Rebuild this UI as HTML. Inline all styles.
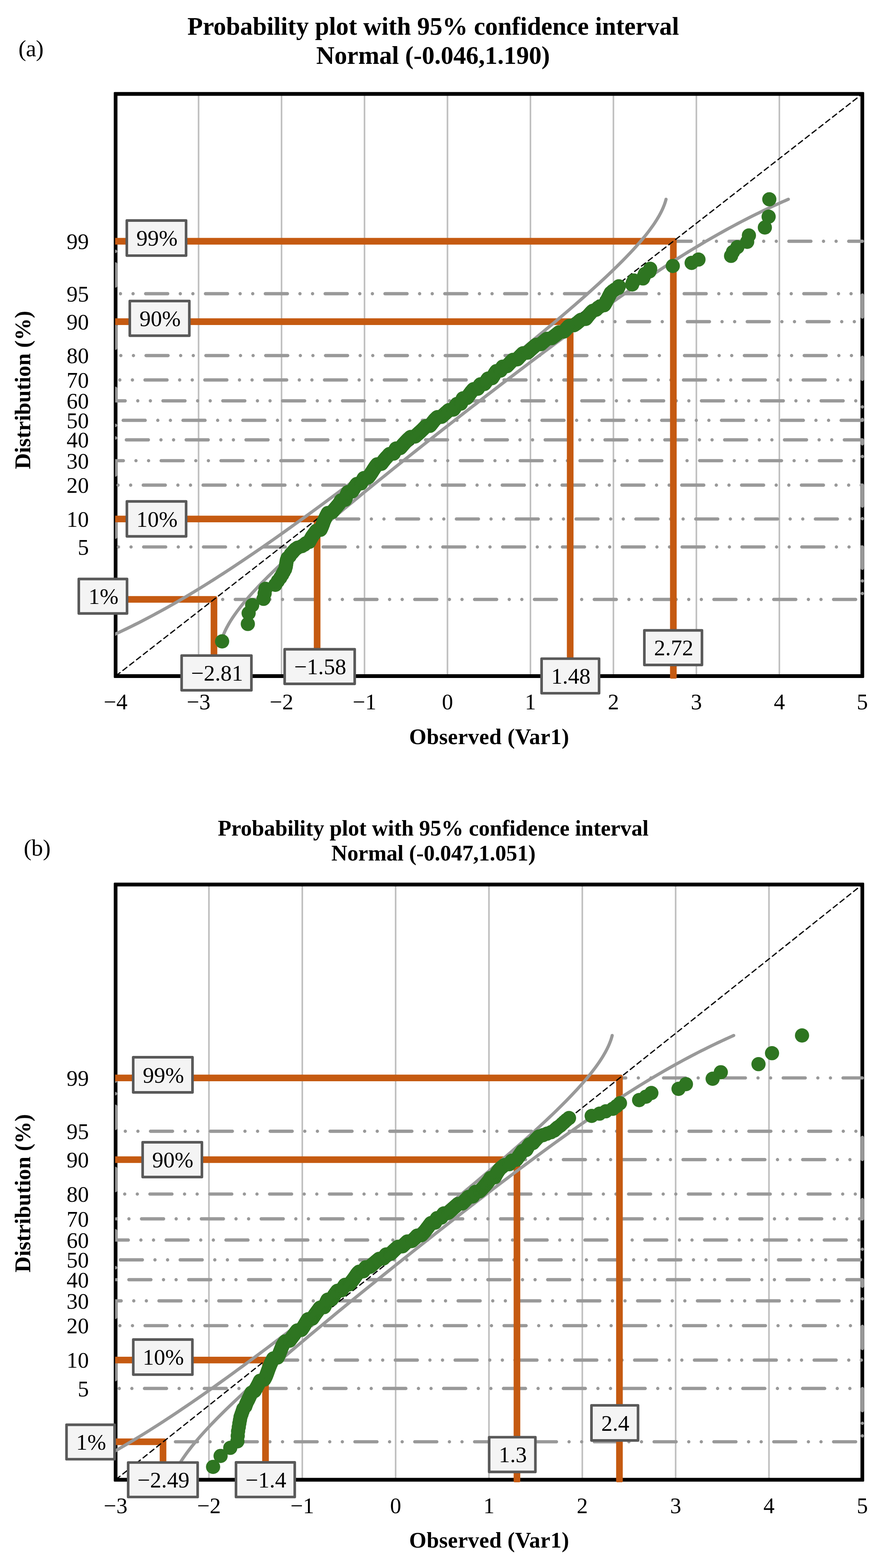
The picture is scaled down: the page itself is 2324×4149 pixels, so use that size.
<!DOCTYPE html>
<html lang="en">
<head>
<meta charset="utf-8">
<title>Probability plots with 95% confidence interval</title>
<style>
html,body{margin:0;padding:0;background:#fff;}
body{width:2324px;height:4149px;overflow:hidden;}
svg{display:block;}
text{white-space:pre;}
</style>
</head>
<body>
<svg width="2324" height="4149" viewBox="0 0 2324 4149">
<rect width="2324" height="4149" fill="#fff"/>
<path d="M525.61 248.5V1789M745.22 248.5V1789M964.83 248.5V1789M1184.44 248.5V1789M1404.06 248.5V1789M1623.67 248.5V1789M1843.28 248.5V1789M2062.89 248.5V1789" stroke="#bfbfbf" stroke-width="4.2" fill="none"/>
<path d="M303.3 243.6H2285.2Q2287.4 243.6 2287.4 245.8V1791.7Q2287.4 1793.9 2285.2 1793.9H303.3Q301.1 1793.9 301.1 1791.7V245.8Q301.1 243.6 303.3 243.6ZM310.9 253.4V1784.1H2277.6V253.4Z" fill="#000" fill-rule="evenodd"/>
<svg x="304.9" y="242" width="1983.5" height="1554" viewBox="304.9 242 1983.5 1554" overflow="hidden">
<polyline points="306,1586.06 2282.5,1586.06 2282.5,1447.24 306,1447.24 306,1373.24 2282.5,1373.24 2282.5,1283.64 306,1283.64 306,1219.02 2282.5,1219.02 2282.5,1163.81 306,1163.81 306,1112.21 2282.5,1112.21 2282.5,1060.6 306,1060.6 306,1005.39 2282.5,1005.39 2282.5,940.78 306,940.78 306,851.17 2282.5,851.17 2282.5,777.17 306,777.17 306,638.36 2282.5,638.36" fill="none" stroke="#999999" stroke-width="8.7" stroke-linecap="round" stroke-linejoin="round" stroke-dasharray="58.35 33.34 0.01 33.34 0.01 33.32" stroke-dashoffset="0"/>
<path d="M304 629.56H1785.6Q1791.1 629.56 1791.1 635.06V1792.8Q1791.1 1795.8 1788.1 1795.8H1776.5Q1773.5 1795.8 1773.5 1792.8V647.16H304Z" fill="#c55a11"/>
<path d="M304 842.37H1512.56Q1518.06 842.37 1518.06 847.87V1792.8Q1518.06 1795.8 1515.06 1795.8H1503.46Q1500.46 1795.8 1500.46 1792.8V859.97H304Z" fill="#c55a11"/>
<path d="M304 1364.44H842.73Q848.23 1364.44 848.23 1369.94V1792.8Q848.23 1795.8 845.23 1795.8H833.63Q830.63 1795.8 830.63 1792.8V1382.04H304Z" fill="#c55a11"/>
<path d="M304 1577.26H569.68Q575.18 1577.26 575.18 1582.76V1792.8Q575.18 1795.8 572.18 1795.8H560.58Q557.58 1795.8 557.58 1792.8V1594.86H304Z" fill="#c55a11"/>
<polyline points="261.96,1697.16 262.22,1697.04 263,1696.7 264.3,1696.14 266.11,1695.35 268.43,1694.34 271.26,1693.1 274.58,1691.64 278.38,1689.95 282.66,1688.05 287.4,1685.92 292.6,1683.56 298.24,1680.99 304.3,1678.2 310.77,1675.19 317.64,1671.97 324.88,1668.53 332.5,1664.87 340.47,1661 348.77,1656.92 357.4,1652.63 366.33,1648.13 375.55,1643.42 385.05,1638.51 394.81,1633.4 404.82,1628.09 415.08,1622.57 425.55,1616.86 436.25,1610.96 447.14,1604.86 458.24,1598.57 469.51,1592.1 480.96,1585.44 492.58,1578.6 504.35,1571.58 516.28,1564.38 528.36,1557.01 540.57,1549.46 552.92,1541.75 565.4,1533.87 578,1525.83 590.72,1517.63 603.56,1509.27 616.51,1500.76 629.56,1492.1 642.72,1483.29 655.99,1474.35 669.35,1465.26 682.81,1456.03 696.36,1446.67 710,1437.19 723.72,1427.58 737.54,1417.84 751.43,1407.99 765.4,1398.03 779.45,1387.95 793.58,1377.77 807.77,1367.48 822.03,1357.1 836.36,1346.62 850.74,1336.06 865.19,1325.4 879.69,1314.67 894.23,1303.85 908.83,1292.97 923.47,1282.01 938.15,1270.99 952.86,1259.9 967.61,1248.76 982.38,1237.57 997.18,1226.32 1011.99,1215.04 1026.82,1203.71 1041.65,1192.35 1056.49,1180.96 1071.33,1169.54 1086.16,1158.1 1100.98,1146.64 1115.78,1135.17 1130.56,1123.69 1145.31,1112.21 1160.03,1100.72 1174.71,1089.24 1189.34,1077.77 1203.93,1066.31 1218.45,1054.87 1232.91,1043.45 1247.31,1032.06 1261.63,1020.7 1275.86,1009.38 1290.01,998.09 1304.06,986.85 1318.01,975.65 1331.86,964.51 1345.58,953.43 1359.19,942.41 1372.67,931.45 1386.01,920.56 1399.21,909.75 1412.26,899.01 1425.15,888.36 1437.88,877.79 1450.44,867.31 1462.82,856.93 1475.02,846.65 1487.02,836.46 1498.83,826.39 1510.43,816.42 1521.81,806.57 1532.97,796.84 1543.91,787.23 1554.61,777.74 1565.08,768.38 1575.29,759.16 1585.25,750.07 1594.95,741.12 1604.39,732.31 1613.55,723.65 1622.44,715.14 1631.05,706.79 1639.37,698.59 1647.41,690.54 1655.14,682.67 1662.59,674.95 1669.73,667.41 1676.58,660.04 1683.12,652.84 1689.36,645.82 1695.3,638.97 1700.94,632.31 1706.28,625.84 1711.32,619.55 1716.07,613.46 1720.53,607.55 1724.7,601.84 1728.59,596.33 1732.22,591.01 1735.58,585.9 1738.68,580.99 1741.53,576.28 1744.15,571.78 1746.53,567.49 1748.7,563.41 1750.66,559.54 1752.43,555.89 1754.01,552.45 1755.42,549.22 1756.67,546.21 1757.77,543.42 1758.73,540.85 1759.57,538.5 1760.29,536.37 1760.91,534.46 1761.43,532.77 1761.86,531.31 1762.21,530.08 1762.49,529.06 1762.7,528.27 1762.85,527.71 1762.94,527.37 1762.97,527.26" fill="none" stroke="#999999" stroke-width="8.4" stroke-linecap="round" stroke-linejoin="round"/>
<polyline points="585.72,1697.16 585.75,1697.04 585.84,1696.7 585.98,1696.14 586.19,1695.35 586.47,1694.34 586.82,1693.1 587.26,1691.64 587.78,1689.95 588.39,1688.05 589.11,1685.92 589.95,1683.56 590.91,1680.99 592.02,1678.2 593.26,1675.19 594.67,1671.97 596.26,1668.53 598.02,1664.87 599.98,1661 602.15,1656.92 604.54,1652.63 607.15,1648.13 610.01,1643.42 613.11,1638.51 616.47,1633.4 620.09,1628.09 623.99,1622.57 628.16,1616.86 632.62,1610.96 637.37,1604.86 642.41,1598.57 647.75,1592.1 653.38,1585.44 659.32,1578.6 665.56,1571.58 672.11,1564.38 678.95,1557.01 686.1,1549.46 693.54,1541.75 701.28,1533.87 709.31,1525.83 717.63,1517.63 726.24,1509.27 735.13,1500.76 744.3,1492.1 753.73,1483.29 763.43,1474.35 773.39,1465.26 783.61,1456.03 794.07,1446.67 804.77,1437.19 815.71,1427.58 826.87,1417.84 838.26,1407.99 849.86,1398.03 861.66,1387.95 873.66,1377.77 885.86,1367.48 898.24,1357.1 910.8,1346.62 923.53,1336.06 936.42,1325.4 949.47,1314.67 962.67,1303.85 976.02,1292.97 989.49,1282.01 1003.1,1270.99 1016.83,1259.9 1030.67,1248.76 1044.62,1237.57 1058.68,1226.32 1072.82,1215.04 1087.06,1203.71 1101.38,1192.35 1115.77,1180.96 1130.23,1169.54 1144.76,1158.1 1159.34,1146.64 1173.98,1135.17 1188.66,1123.69 1203.37,1112.21 1218.13,1100.72 1232.91,1089.24 1247.71,1077.77 1262.53,1066.31 1277.36,1054.87 1292.19,1043.45 1307.03,1032.06 1321.87,1020.7 1336.69,1009.38 1351.51,998.09 1366.3,986.85 1381.07,975.65 1395.82,964.51 1410.53,953.43 1425.21,942.41 1439.85,931.45 1454.45,920.56 1469,909.75 1483.5,899.01 1497.94,888.36 1512.33,877.79 1526.65,867.31 1540.91,856.93 1555.11,846.65 1569.23,836.46 1583.28,826.39 1597.25,816.42 1611.15,806.57 1624.96,796.84 1638.69,787.23 1652.33,777.74 1665.88,768.38 1679.34,759.16 1692.7,750.07 1705.96,741.12 1719.12,732.31 1732.18,723.65 1745.13,715.14 1757.96,706.79 1770.68,698.59 1783.29,690.54 1795.76,682.67 1808.11,674.95 1820.33,667.41 1832.4,660.04 1844.33,652.84 1856.11,645.82 1867.72,638.97 1879.17,632.31 1890.45,625.84 1901.54,619.55 1912.44,613.46 1923.13,607.55 1933.61,601.84 1943.86,596.33 1953.87,591.01 1963.64,585.9 1973.14,580.99 1982.36,576.28 1991.29,571.78 1999.91,567.49 2008.22,563.41 2016.18,559.54 2023.8,555.89 2031.05,552.45 2037.92,549.22 2044.39,546.21 2050.45,543.42 2056.08,540.85 2061.28,538.5 2066.02,536.37 2070.3,534.46 2074.11,532.77 2077.43,531.31 2080.25,530.08 2082.57,529.06 2084.39,528.27 2085.69,527.71 2086.47,527.37 2086.73,527.26" fill="none" stroke="#999999" stroke-width="8.4" stroke-linecap="round" stroke-linejoin="round"/>
<line x1="306" y1="1789" x2="2282.5" y2="248.5" stroke="#000" stroke-width="3.3" stroke-linecap="round" stroke-dasharray="13.3 9.6" stroke-dashoffset="-1.6"/>
<g fill="#2e7521"><circle cx="587.9" cy="1697.16" r="18.8"/><circle cx="656" cy="1651.01" r="18.8"/><circle cx="658.1" cy="1622.45" r="18.8"/><circle cx="667.5" cy="1601.37" r="18.8"/><circle cx="697.6" cy="1584.51" r="18.8"/><circle cx="700.5" cy="1570.37" r="18.8"/><circle cx="702.8" cy="1558.15" r="18.8"/><circle cx="728.8" cy="1547.35" r="18.8"/><circle cx="735.35" cy="1537.65" r="18.8"/><circle cx="741.81" cy="1528.83" r="18.8"/><circle cx="746.75" cy="1520.73" r="18.8"/><circle cx="750.89" cy="1513.22" r="18.8"/><circle cx="754.59" cy="1506.23" r="18.8"/><circle cx="756.45" cy="1499.67" r="18.8"/><circle cx="757.4" cy="1493.49" r="18.8"/><circle cx="758.26" cy="1487.64" r="18.8"/><circle cx="759.31" cy="1482.08" r="18.8"/><circle cx="761.17" cy="1476.79" r="18.8"/><circle cx="766.56" cy="1471.73" r="18.8"/><circle cx="769.51" cy="1466.89" r="18.8"/><circle cx="773.74" cy="1462.24" r="18.8"/><circle cx="777.64" cy="1457.76" r="18.8"/><circle cx="781.56" cy="1453.44" r="18.8"/><circle cx="787.53" cy="1449.28" r="18.8"/><circle cx="798.73" cy="1445.25" r="18.8"/><circle cx="805.34" cy="1441.34" r="18.8"/><circle cx="809.65" cy="1437.55" r="18.8"/><circle cx="818.31" cy="1433.88" r="18.8"/><circle cx="820.22" cy="1430.3" r="18.8"/><circle cx="822.08" cy="1426.82" r="18.8"/><circle cx="823.92" cy="1423.43" r="18.8"/><circle cx="825.86" cy="1420.12" r="18.8"/><circle cx="828.19" cy="1416.89" r="18.8"/><circle cx="830.48" cy="1413.74" r="18.8"/><circle cx="832.73" cy="1410.66" r="18.8"/><circle cx="835.07" cy="1407.64" r="18.8"/><circle cx="836.9" cy="1404.69" r="18.8"/><circle cx="848.27" cy="1401.8" r="18.8"/><circle cx="849.61" cy="1398.96" r="18.8"/><circle cx="850.88" cy="1396.18" r="18.8"/><circle cx="852.07" cy="1393.46" r="18.8"/><circle cx="853.16" cy="1390.78" r="18.8"/><circle cx="854.16" cy="1388.15" r="18.8"/><circle cx="855.06" cy="1385.56" r="18.8"/><circle cx="855.88" cy="1383.02" r="18.8"/><circle cx="856.62" cy="1380.52" r="18.8"/><circle cx="857.74" cy="1378.05" r="18.8"/><circle cx="858.92" cy="1375.63" r="18.8"/><circle cx="860.06" cy="1373.24" r="18.8"/><circle cx="861.16" cy="1370.89" r="18.8"/><circle cx="862.25" cy="1368.58" r="18.8"/><circle cx="863.33" cy="1366.29" r="18.8"/><circle cx="864.41" cy="1364.04" r="18.8"/><circle cx="865.51" cy="1361.82" r="18.8"/><circle cx="866.62" cy="1359.62" r="18.8"/><circle cx="867.76" cy="1357.46" r="18.8"/><circle cx="878.93" cy="1355.32" r="18.8"/><circle cx="880.55" cy="1353.21" r="18.8"/><circle cx="882.24" cy="1351.12" r="18.8"/><circle cx="883.95" cy="1349.06" r="18.8"/><circle cx="885.66" cy="1347.03" r="18.8"/><circle cx="887.37" cy="1345.01" r="18.8"/><circle cx="889.07" cy="1343.02" r="18.8"/><circle cx="890.76" cy="1341.05" r="18.8"/><circle cx="892.42" cy="1339.1" r="18.8"/><circle cx="894.06" cy="1337.18" r="18.8"/><circle cx="895.67" cy="1335.27" r="18.8"/><circle cx="897.24" cy="1333.38" r="18.8"/><circle cx="898.55" cy="1331.51" r="18.8"/><circle cx="899.63" cy="1329.66" r="18.8"/><circle cx="900.66" cy="1327.83" r="18.8"/><circle cx="901.66" cy="1326.01" r="18.8"/><circle cx="902.62" cy="1324.21" r="18.8"/><circle cx="913.53" cy="1322.43" r="18.8"/><circle cx="914.09" cy="1320.66" r="18.8"/><circle cx="914.63" cy="1318.91" r="18.8"/><circle cx="915.16" cy="1317.17" r="18.8"/><circle cx="915.67" cy="1315.45" r="18.8"/><circle cx="916.17" cy="1313.74" r="18.8"/><circle cx="916.7" cy="1312.05" r="18.8"/><circle cx="917.42" cy="1310.37" r="18.8"/><circle cx="918.14" cy="1308.71" r="18.8"/><circle cx="918.85" cy="1307.05" r="18.8"/><circle cx="919.57" cy="1305.41" r="18.8"/><circle cx="920.3" cy="1303.78" r="18.8"/><circle cx="921.03" cy="1302.17" r="18.8"/><circle cx="931.77" cy="1300.57" r="18.8"/><circle cx="932.72" cy="1298.97" r="18.8"/><circle cx="933.69" cy="1297.39" r="18.8"/><circle cx="934.67" cy="1295.82" r="18.8"/><circle cx="935.67" cy="1294.26" r="18.8"/><circle cx="936.63" cy="1292.72" r="18.8"/><circle cx="937.58" cy="1291.18" r="18.8"/><circle cx="938.53" cy="1289.65" r="18.8"/><circle cx="939.51" cy="1288.13" r="18.8"/><circle cx="940.49" cy="1286.62" r="18.8"/><circle cx="941.49" cy="1285.12" r="18.8"/><circle cx="942.5" cy="1283.64" r="18.8"/><circle cx="943.52" cy="1282.16" r="18.8"/><circle cx="944.53" cy="1280.68" r="18.8"/><circle cx="955.45" cy="1279.22" r="18.8"/><circle cx="956.25" cy="1277.77" r="18.8"/><circle cx="957.05" cy="1276.32" r="18.8"/><circle cx="957.84" cy="1274.88" r="18.8"/><circle cx="958.63" cy="1273.45" r="18.8"/><circle cx="959.41" cy="1272.03" r="18.8"/><circle cx="960.17" cy="1270.62" r="18.8"/><circle cx="960.92" cy="1269.21" r="18.8"/><circle cx="961.66" cy="1267.81" r="18.8"/><circle cx="962.38" cy="1266.42" r="18.8"/><circle cx="963.09" cy="1265.04" r="18.8"/><circle cx="974.11" cy="1263.66" r="18.8"/><circle cx="975.19" cy="1262.29" r="18.8"/><circle cx="976.23" cy="1260.93" r="18.8"/><circle cx="977.25" cy="1259.57" r="18.8"/><circle cx="978.25" cy="1258.22" r="18.8"/><circle cx="979.22" cy="1256.88" r="18.8"/><circle cx="980.16" cy="1255.54" r="18.8"/><circle cx="981.08" cy="1254.21" r="18.8"/><circle cx="981.98" cy="1252.88" r="18.8"/><circle cx="982.85" cy="1251.56" r="18.8"/><circle cx="983.71" cy="1250.25" r="18.8"/><circle cx="984.55" cy="1248.94" r="18.8"/><circle cx="985.38" cy="1247.64" r="18.8"/><circle cx="986.19" cy="1246.34" r="18.8"/><circle cx="987" cy="1245.05" r="18.8"/><circle cx="987.8" cy="1243.76" r="18.8"/><circle cx="988.59" cy="1242.48" r="18.8"/><circle cx="989.38" cy="1241.21" r="18.8"/><circle cx="990.23" cy="1239.93" r="18.8"/><circle cx="991.1" cy="1238.67" r="18.8"/><circle cx="991.97" cy="1237.41" r="18.8"/><circle cx="992.85" cy="1236.15" r="18.8"/><circle cx="993.73" cy="1234.9" r="18.8"/><circle cx="994.61" cy="1233.65" r="18.8"/><circle cx="995.51" cy="1232.41" r="18.8"/><circle cx="996.41" cy="1231.17" r="18.8"/><circle cx="997.32" cy="1229.94" r="18.8"/><circle cx="998.24" cy="1228.71" r="18.8"/><circle cx="1009.15" cy="1227.48" r="18.8"/><circle cx="1010.06" cy="1226.26" r="18.8"/><circle cx="1010.98" cy="1225.05" r="18.8"/><circle cx="1011.9" cy="1223.83" r="18.8"/><circle cx="1012.83" cy="1222.62" r="18.8"/><circle cx="1013.77" cy="1221.42" r="18.8"/><circle cx="1014.72" cy="1220.22" r="18.8"/><circle cx="1015.66" cy="1219.02" r="18.8"/><circle cx="1016.62" cy="1217.83" r="18.8"/><circle cx="1017.57" cy="1216.64" r="18.8"/><circle cx="1018.53" cy="1215.45" r="18.8"/><circle cx="1019.48" cy="1214.27" r="18.8"/><circle cx="1020.48" cy="1213.09" r="18.8"/><circle cx="1021.57" cy="1211.91" r="18.8"/><circle cx="1022.65" cy="1210.74" r="18.8"/><circle cx="1023.73" cy="1209.57" r="18.8"/><circle cx="1024.8" cy="1208.4" r="18.8"/><circle cx="1025.86" cy="1207.24" r="18.8"/><circle cx="1026.91" cy="1206.08" r="18.8"/><circle cx="1027.95" cy="1204.92" r="18.8"/><circle cx="1028.98" cy="1203.77" r="18.8"/><circle cx="1030" cy="1202.62" r="18.8"/><circle cx="1031" cy="1201.47" r="18.8"/><circle cx="1041.71" cy="1200.32" r="18.8"/><circle cx="1042.29" cy="1199.18" r="18.8"/><circle cx="1042.87" cy="1198.04" r="18.8"/><circle cx="1043.43" cy="1196.9" r="18.8"/><circle cx="1043.99" cy="1195.77" r="18.8"/><circle cx="1044.54" cy="1194.64" r="18.8"/><circle cx="1045.08" cy="1193.51" r="18.8"/><circle cx="1045.62" cy="1192.38" r="18.8"/><circle cx="1046.15" cy="1191.25" r="18.8"/><circle cx="1046.67" cy="1190.13" r="18.8"/><circle cx="1047.2" cy="1189.01" r="18.8"/><circle cx="1047.73" cy="1187.89" r="18.8"/><circle cx="1048.26" cy="1186.78" r="18.8"/><circle cx="1059.18" cy="1185.67" r="18.8"/><circle cx="1060.13" cy="1184.55" r="18.8"/><circle cx="1061.07" cy="1183.45" r="18.8"/><circle cx="1062.01" cy="1182.34" r="18.8"/><circle cx="1062.96" cy="1181.23" r="18.8"/><circle cx="1063.9" cy="1180.13" r="18.8"/><circle cx="1064.84" cy="1179.03" r="18.8"/><circle cx="1065.8" cy="1177.93" r="18.8"/><circle cx="1066.75" cy="1176.84" r="18.8"/><circle cx="1067.71" cy="1175.74" r="18.8"/><circle cx="1068.69" cy="1174.65" r="18.8"/><circle cx="1069.67" cy="1173.56" r="18.8"/><circle cx="1070.66" cy="1172.47" r="18.8"/><circle cx="1071.66" cy="1171.38" r="18.8"/><circle cx="1072.67" cy="1170.29" r="18.8"/><circle cx="1073.7" cy="1169.21" r="18.8"/><circle cx="1074.73" cy="1168.13" r="18.8"/><circle cx="1075.79" cy="1167.05" r="18.8"/><circle cx="1076.85" cy="1165.97" r="18.8"/><circle cx="1077.93" cy="1164.89" r="18.8"/><circle cx="1079.02" cy="1163.81" r="18.8"/><circle cx="1080.13" cy="1162.74" r="18.8"/><circle cx="1081.25" cy="1161.66" r="18.8"/><circle cx="1082.38" cy="1160.59" r="18.8"/><circle cx="1083.52" cy="1159.52" r="18.8"/><circle cx="1084.67" cy="1158.45" r="18.8"/><circle cx="1085.84" cy="1157.38" r="18.8"/><circle cx="1087.01" cy="1156.31" r="18.8"/><circle cx="1098.19" cy="1155.25" r="18.8"/><circle cx="1099.37" cy="1154.18" r="18.8"/><circle cx="1100.56" cy="1153.12" r="18.8"/><circle cx="1101.76" cy="1152.06" r="18.8"/><circle cx="1102.95" cy="1150.99" r="18.8"/><circle cx="1104.12" cy="1149.93" r="18.8"/><circle cx="1105.29" cy="1148.87" r="18.8"/><circle cx="1106.46" cy="1147.81" r="18.8"/><circle cx="1107.62" cy="1146.76" r="18.8"/><circle cx="1108.79" cy="1145.7" r="18.8"/><circle cx="1109.95" cy="1144.65" r="18.8"/><circle cx="1111.1" cy="1143.59" r="18.8"/><circle cx="1112.24" cy="1142.54" r="18.8"/><circle cx="1113.38" cy="1141.48" r="18.8"/><circle cx="1114.5" cy="1140.43" r="18.8"/><circle cx="1115.62" cy="1139.38" r="18.8"/><circle cx="1116.72" cy="1138.33" r="18.8"/><circle cx="1117.81" cy="1137.28" r="18.8"/><circle cx="1118.89" cy="1136.23" r="18.8"/><circle cx="1119.96" cy="1135.18" r="18.8"/><circle cx="1121.01" cy="1134.13" r="18.8"/><circle cx="1122.04" cy="1133.08" r="18.8"/><circle cx="1123.07" cy="1132.04" r="18.8"/><circle cx="1124.07" cy="1130.99" r="18.8"/><circle cx="1125.07" cy="1129.94" r="18.8"/><circle cx="1126.05" cy="1128.9" r="18.8"/><circle cx="1127.02" cy="1127.85" r="18.8"/><circle cx="1137.89" cy="1126.81" r="18.8"/><circle cx="1138.76" cy="1125.76" r="18.8"/><circle cx="1139.61" cy="1124.72" r="18.8"/><circle cx="1140.46" cy="1123.67" r="18.8"/><circle cx="1141.29" cy="1122.63" r="18.8"/><circle cx="1142.12" cy="1121.59" r="18.8"/><circle cx="1142.94" cy="1120.55" r="18.8"/><circle cx="1143.75" cy="1119.5" r="18.8"/><circle cx="1144.56" cy="1118.46" r="18.8"/><circle cx="1145.36" cy="1117.42" r="18.8"/><circle cx="1146.16" cy="1116.38" r="18.8"/><circle cx="1146.96" cy="1115.33" r="18.8"/><circle cx="1147.76" cy="1114.29" r="18.8"/><circle cx="1148.55" cy="1113.25" r="18.8"/><circle cx="1149.35" cy="1112.21" r="18.8"/><circle cx="1150.26" cy="1111.17" r="18.8"/><circle cx="1151.31" cy="1110.12" r="18.8"/><circle cx="1152.38" cy="1109.08" r="18.8"/><circle cx="1153.44" cy="1108.04" r="18.8"/><circle cx="1154.51" cy="1107" r="18.8"/><circle cx="1155.59" cy="1105.95" r="18.8"/><circle cx="1156.68" cy="1104.91" r="18.8"/><circle cx="1157.77" cy="1103.87" r="18.8"/><circle cx="1168.87" cy="1102.83" r="18.8"/><circle cx="1169.97" cy="1101.78" r="18.8"/><circle cx="1171.07" cy="1100.74" r="18.8"/><circle cx="1172.18" cy="1099.7" r="18.8"/><circle cx="1173.3" cy="1098.65" r="18.8"/><circle cx="1174.43" cy="1097.61" r="18.8"/><circle cx="1175.57" cy="1096.56" r="18.8"/><circle cx="1176.72" cy="1095.52" r="18.8"/><circle cx="1177.88" cy="1094.47" r="18.8"/><circle cx="1179.04" cy="1093.42" r="18.8"/><circle cx="1180.21" cy="1092.38" r="18.8"/><circle cx="1181.39" cy="1091.33" r="18.8"/><circle cx="1182.57" cy="1090.28" r="18.8"/><circle cx="1183.76" cy="1089.23" r="18.8"/><circle cx="1184.95" cy="1088.19" r="18.8"/><circle cx="1186.15" cy="1087.14" r="18.8"/><circle cx="1187.34" cy="1086.09" r="18.8"/><circle cx="1188.54" cy="1085.04" r="18.8"/><circle cx="1199.68" cy="1083.98" r="18.8"/><circle cx="1200.56" cy="1082.93" r="18.8"/><circle cx="1201.43" cy="1081.88" r="18.8"/><circle cx="1202.31" cy="1080.82" r="18.8"/><circle cx="1202.98" cy="1079.77" r="18.8"/><circle cx="1203.62" cy="1078.71" r="18.8"/><circle cx="1204.25" cy="1077.66" r="18.8"/><circle cx="1204.88" cy="1076.6" r="18.8"/><circle cx="1205.51" cy="1075.54" r="18.8"/><circle cx="1206.13" cy="1074.48" r="18.8"/><circle cx="1206.75" cy="1073.42" r="18.8"/><circle cx="1207.36" cy="1072.36" r="18.8"/><circle cx="1207.96" cy="1071.3" r="18.8"/><circle cx="1208.56" cy="1070.23" r="18.8"/><circle cx="1209.15" cy="1069.17" r="18.8"/><circle cx="1219.64" cy="1068.1" r="18.8"/><circle cx="1220.09" cy="1067.03" r="18.8"/><circle cx="1220.54" cy="1065.97" r="18.8"/><circle cx="1220.99" cy="1064.9" r="18.8"/><circle cx="1221.43" cy="1063.82" r="18.8"/><circle cx="1221.87" cy="1062.75" r="18.8"/><circle cx="1222.31" cy="1061.68" r="18.8"/><circle cx="1222.74" cy="1060.6" r="18.8"/><circle cx="1223.17" cy="1059.53" r="18.8"/><circle cx="1223.6" cy="1058.45" r="18.8"/><circle cx="1224.03" cy="1057.37" r="18.8"/><circle cx="1224.46" cy="1056.29" r="18.8"/><circle cx="1224.88" cy="1055.2" r="18.8"/><circle cx="1225.31" cy="1054.12" r="18.8"/><circle cx="1235.81" cy="1053.03" r="18.8"/><circle cx="1236.54" cy="1051.95" r="18.8"/><circle cx="1237.27" cy="1050.86" r="18.8"/><circle cx="1238" cy="1049.77" r="18.8"/><circle cx="1238.74" cy="1048.67" r="18.8"/><circle cx="1239.5" cy="1047.58" r="18.8"/><circle cx="1240.26" cy="1046.48" r="18.8"/><circle cx="1241.03" cy="1045.38" r="18.8"/><circle cx="1241.81" cy="1044.28" r="18.8"/><circle cx="1242.61" cy="1043.18" r="18.8"/><circle cx="1243.42" cy="1042.07" r="18.8"/><circle cx="1244.24" cy="1040.97" r="18.8"/><circle cx="1245.08" cy="1039.86" r="18.8"/><circle cx="1245.94" cy="1038.75" r="18.8"/><circle cx="1246.81" cy="1037.64" r="18.8"/><circle cx="1247.72" cy="1036.52" r="18.8"/><circle cx="1248.65" cy="1035.4" r="18.8"/><circle cx="1249.59" cy="1034.28" r="18.8"/><circle cx="1250.54" cy="1033.16" r="18.8"/><circle cx="1251.51" cy="1032.04" r="18.8"/><circle cx="1252.5" cy="1030.91" r="18.8"/><circle cx="1253.49" cy="1029.78" r="18.8"/><circle cx="1264.44" cy="1028.65" r="18.8"/><circle cx="1265.11" cy="1027.51" r="18.8"/><circle cx="1265.78" cy="1026.37" r="18.8"/><circle cx="1266.47" cy="1025.23" r="18.8"/><circle cx="1267.15" cy="1024.09" r="18.8"/><circle cx="1267.85" cy="1022.95" r="18.8"/><circle cx="1268.54" cy="1021.8" r="18.8"/><circle cx="1269.24" cy="1020.65" r="18.8"/><circle cx="1269.94" cy="1019.49" r="18.8"/><circle cx="1270.64" cy="1018.33" r="18.8"/><circle cx="1271.34" cy="1017.17" r="18.8"/><circle cx="1282.1" cy="1016.01" r="18.8"/><circle cx="1282.94" cy="1014.84" r="18.8"/><circle cx="1283.78" cy="1013.68" r="18.8"/><circle cx="1284.61" cy="1012.5" r="18.8"/><circle cx="1285.43" cy="1011.33" r="18.8"/><circle cx="1286.25" cy="1010.15" r="18.8"/><circle cx="1287.06" cy="1008.96" r="18.8"/><circle cx="1287.86" cy="1007.78" r="18.8"/><circle cx="1288.65" cy="1006.59" r="18.8"/><circle cx="1289.43" cy="1005.39" r="18.8"/><circle cx="1290.2" cy="1004.2" r="18.8"/><circle cx="1290.96" cy="1002.99" r="18.8"/><circle cx="1291.71" cy="1001.79" r="18.8"/><circle cx="1302.46" cy="1000.58" r="18.8"/><circle cx="1303.23" cy="999.37" r="18.8"/><circle cx="1303.99" cy="998.15" r="18.8"/><circle cx="1304.75" cy="996.93" r="18.8"/><circle cx="1305.49" cy="995.7" r="18.8"/><circle cx="1306.22" cy="994.48" r="18.8"/><circle cx="1306.95" cy="993.24" r="18.8"/><circle cx="1307.68" cy="992" r="18.8"/><circle cx="1308.4" cy="990.76" r="18.8"/><circle cx="1309.12" cy="989.51" r="18.8"/><circle cx="1309.83" cy="988.26" r="18.8"/><circle cx="1310.55" cy="987.01" r="18.8"/><circle cx="1311.32" cy="985.75" r="18.8"/><circle cx="1312.22" cy="984.48" r="18.8"/><circle cx="1313.12" cy="983.21" r="18.8"/><circle cx="1314.04" cy="981.93" r="18.8"/><circle cx="1324.74" cy="980.65" r="18.8"/><circle cx="1325.43" cy="979.37" r="18.8"/><circle cx="1326.13" cy="978.07" r="18.8"/><circle cx="1326.84" cy="976.78" r="18.8"/><circle cx="1327.56" cy="975.47" r="18.8"/><circle cx="1328.29" cy="974.17" r="18.8"/><circle cx="1329.04" cy="972.85" r="18.8"/><circle cx="1329.79" cy="971.53" r="18.8"/><circle cx="1330.55" cy="970.21" r="18.8"/><circle cx="1341.61" cy="968.88" r="18.8"/><circle cx="1342.85" cy="967.54" r="18.8"/><circle cx="1344.1" cy="966.19" r="18.8"/><circle cx="1345.38" cy="964.84" r="18.8"/><circle cx="1346.67" cy="963.49" r="18.8"/><circle cx="1347.97" cy="962.12" r="18.8"/><circle cx="1349.29" cy="960.75" r="18.8"/><circle cx="1350.62" cy="959.38" r="18.8"/><circle cx="1351.96" cy="957.99" r="18.8"/><circle cx="1353.31" cy="956.6" r="18.8"/><circle cx="1354.66" cy="955.2" r="18.8"/><circle cx="1356.02" cy="953.79" r="18.8"/><circle cx="1357.38" cy="952.38" r="18.8"/><circle cx="1368.74" cy="950.96" r="18.8"/><circle cx="1370.08" cy="949.53" r="18.8"/><circle cx="1371.43" cy="948.09" r="18.8"/><circle cx="1372.76" cy="946.65" r="18.8"/><circle cx="1374.09" cy="945.19" r="18.8"/><circle cx="1375.42" cy="943.73" r="18.8"/><circle cx="1376.89" cy="942.26" r="18.8"/><circle cx="1378.39" cy="940.78" r="18.8"/><circle cx="1379.87" cy="939.29" r="18.8"/><circle cx="1381.35" cy="937.79" r="18.8"/><circle cx="1382.83" cy="936.28" r="18.8"/><circle cx="1384.3" cy="934.76" r="18.8"/><circle cx="1395.96" cy="933.24" r="18.8"/><circle cx="1397.66" cy="931.7" r="18.8"/><circle cx="1399.37" cy="930.15" r="18.8"/><circle cx="1401.08" cy="928.59" r="18.8"/><circle cx="1402.8" cy="927.02" r="18.8"/><circle cx="1404.53" cy="925.44" r="18.8"/><circle cx="1406.28" cy="923.85" r="18.8"/><circle cx="1408.05" cy="922.24" r="18.8"/><circle cx="1409.85" cy="920.63" r="18.8"/><circle cx="1411.68" cy="919" r="18.8"/><circle cx="1413.54" cy="917.36" r="18.8"/><circle cx="1415.45" cy="915.71" r="18.8"/><circle cx="1417.4" cy="914.04" r="18.8"/><circle cx="1419.4" cy="912.36" r="18.8"/><circle cx="1431.38" cy="910.67" r="18.8"/><circle cx="1433.26" cy="908.96" r="18.8"/><circle cx="1435.19" cy="907.24" r="18.8"/><circle cx="1437.18" cy="905.51" r="18.8"/><circle cx="1439.24" cy="903.75" r="18.8"/><circle cx="1441.34" cy="901.99" r="18.8"/><circle cx="1443.5" cy="900.2" r="18.8"/><circle cx="1445.69" cy="898.4" r="18.8"/><circle cx="1447.92" cy="896.59" r="18.8"/><circle cx="1460.23" cy="894.76" r="18.8"/><circle cx="1462.64" cy="892.9" r="18.8"/><circle cx="1465.07" cy="891.03" r="18.8"/><circle cx="1467.52" cy="889.15" r="18.8"/><circle cx="1469.99" cy="887.24" r="18.8"/><circle cx="1472.45" cy="885.31" r="18.8"/><circle cx="1474.91" cy="883.36" r="18.8"/><circle cx="1477.37" cy="881.39" r="18.8"/><circle cx="1479.81" cy="879.4" r="18.8"/><circle cx="1492.14" cy="877.39" r="18.8"/><circle cx="1494.37" cy="875.35" r="18.8"/><circle cx="1496.36" cy="873.29" r="18.8"/><circle cx="1498.33" cy="871.21" r="18.8"/><circle cx="1500.28" cy="869.09" r="18.8"/><circle cx="1502.21" cy="866.96" r="18.8"/><circle cx="1504.14" cy="864.79" r="18.8"/><circle cx="1506.35" cy="862.6" r="18.8"/><circle cx="1519.42" cy="860.38" r="18.8"/><circle cx="1522.66" cy="858.12" r="18.8"/><circle cx="1525.96" cy="855.84" r="18.8"/><circle cx="1528.93" cy="853.52" r="18.8"/><circle cx="1531.7" cy="851.17" r="18.8"/><circle cx="1534.54" cy="848.78" r="18.8"/><circle cx="1537.62" cy="846.36" r="18.8"/><circle cx="1550.12" cy="843.9" r="18.8"/><circle cx="1552.46" cy="841.4" r="18.8"/><circle cx="1554.3" cy="838.85" r="18.8"/><circle cx="1556.29" cy="836.27" r="18.8"/><circle cx="1558.44" cy="833.64" r="18.8"/><circle cx="1560.73" cy="830.96" r="18.8"/><circle cx="1563.15" cy="828.23" r="18.8"/><circle cx="1565.77" cy="825.45" r="18.8"/><circle cx="1568.92" cy="822.62" r="18.8"/><circle cx="1577.68" cy="819.72" r="18.8"/><circle cx="1580.58" cy="816.77" r="18.8"/><circle cx="1583.64" cy="813.76" r="18.8"/><circle cx="1589" cy="810.67" r="18.8"/><circle cx="1599.27" cy="807.52" r="18.8"/><circle cx="1601.46" cy="804.29" r="18.8"/><circle cx="1603.09" cy="800.99" r="18.8"/><circle cx="1604.84" cy="797.59" r="18.8"/><circle cx="1606.72" cy="794.11" r="18.8"/><circle cx="1608.76" cy="790.54" r="18.8"/><circle cx="1610.5" cy="786.86" r="18.8"/><circle cx="1612.37" cy="783.07" r="18.8"/><circle cx="1614.36" cy="779.17" r="18.8"/><circle cx="1616.44" cy="775.14" r="18.8"/><circle cx="1621.09" cy="770.97" r="18.8"/><circle cx="1627.03" cy="766.65" r="18.8"/><circle cx="1635.9" cy="762.18" r="18.8"/><circle cx="1638" cy="757.53" r="18.8"/><circle cx="1673.3" cy="752.68" r="18.8"/><circle cx="1675" cy="747.62" r="18.8"/><circle cx="1678" cy="742.33" r="18.8"/><circle cx="1702" cy="736.78" r="18.8"/><circle cx="1704.5" cy="730.93" r="18.8"/><circle cx="1707" cy="724.75" r="18.8"/><circle cx="1719" cy="718.19" r="18.8"/><circle cx="1721" cy="711.19" r="18.8"/><circle cx="1780.8" cy="703.69" r="18.8"/><circle cx="1830.7" cy="695.58" r="18.8"/><circle cx="1848.8" cy="686.76" r="18.8"/><circle cx="1935.1" cy="677.06" r="18.8"/><circle cx="1940.3" cy="666.26" r="18.8"/><circle cx="1951.7" cy="654.04" r="18.8"/><circle cx="1977.7" cy="639.9" r="18.8"/><circle cx="1982.3" cy="623.04" r="18.8"/><circle cx="2024.5" cy="601.97" r="18.8"/><circle cx="2034.5" cy="573.4" r="18.8"/><circle cx="2036.3" cy="527.26" r="18.8"/></g>
</svg>
<g font-family='"Liberation Serif", "DejaVu Serif", serif' font-size="59" fill="#000">
<text x="235.2" y="1467.84" text-anchor="end">5</text>
<text x="235.2" y="1393.84" text-anchor="end">10</text>
<text x="235.2" y="1304.24" text-anchor="end">20</text>
<text x="235.2" y="1239.62" text-anchor="end">30</text>
<text x="235.2" y="1184.41" text-anchor="end">40</text>
<text x="235.2" y="1132.81" text-anchor="end">50</text>
<text x="235.2" y="1081.2" text-anchor="end">60</text>
<text x="235.2" y="1025.99" text-anchor="end">70</text>
<text x="235.2" y="961.38" text-anchor="end">80</text>
<text x="235.2" y="871.77" text-anchor="end">90</text>
<text x="235.2" y="797.77" text-anchor="end">95</text>
<text x="235.2" y="658.96" text-anchor="end">99</text>
<text x="306" y="1877" text-anchor="middle">−4</text>
<text x="525.61" y="1877" text-anchor="middle">−3</text>
<text x="745.22" y="1877" text-anchor="middle">−2</text>
<text x="964.83" y="1877" text-anchor="middle">−1</text>
<text x="1184.44" y="1877" text-anchor="middle">0</text>
<text x="1404.06" y="1877" text-anchor="middle">1</text>
<text x="1623.67" y="1877" text-anchor="middle">2</text>
<text x="1843.28" y="1877" text-anchor="middle">3</text>
<text x="2062.89" y="1877" text-anchor="middle">4</text>
<text x="2282.5" y="1877" text-anchor="middle">5</text>
</g>
<rect x="335.65" y="583.45" width="156.9" height="92.9" fill="#f4f4f4" stroke="#595959" stroke-width="6.9" stroke-linejoin="round"/>
<text x="415.5" y="650.4" text-anchor="middle" font-family='"Liberation Serif", "DejaVu Serif", serif' font-size="59.5" fill="#000">99%</text>
<rect x="343.55" y="796.55" width="157.6" height="91.7" fill="#f4f4f4" stroke="#595959" stroke-width="6.9" stroke-linejoin="round"/>
<text x="423.75" y="862.9" text-anchor="middle" font-family='"Liberation Serif", "DejaVu Serif", serif' font-size="59.5" fill="#000">90%</text>
<rect x="335.85" y="1326.75" width="156.8" height="92.5" fill="#f4f4f4" stroke="#595959" stroke-width="6.9" stroke-linejoin="round"/>
<text x="415.65" y="1393.5" text-anchor="middle" font-family='"Liberation Serif", "DejaVu Serif", serif' font-size="59.5" fill="#000">10%</text>
<rect x="208.55" y="1531.95" width="127.7" height="91.3" fill="#f4f4f4" stroke="#595959" stroke-width="6.9" stroke-linejoin="round"/>
<text x="273.8" y="1598.1" text-anchor="middle" font-family='"Liberation Serif", "DejaVu Serif", serif' font-size="59.5" fill="#000">1%</text>
<rect x="480.75" y="1734.65" width="184.7" height="91.8" fill="#f4f4f4" stroke="#595959" stroke-width="6.9" stroke-linejoin="round"/>
<text x="574.5" y="1801.05" text-anchor="middle" font-family='"Liberation Serif", "DejaVu Serif", serif' font-size="59.5" fill="#000">−2.81</text>
<rect x="753.45" y="1718.05" width="185.4" height="91.5" fill="#f4f4f4" stroke="#595959" stroke-width="6.9" stroke-linejoin="round"/>
<text x="847.55" y="1784.3" text-anchor="middle" font-family='"Liberation Serif", "DejaVu Serif", serif' font-size="59.5" fill="#000">−1.58</text>
<rect x="1433.55" y="1742.85" width="152.2" height="91.5" fill="#f4f4f4" stroke="#595959" stroke-width="6.9" stroke-linejoin="round"/>
<text x="1511.05" y="1809.1" text-anchor="middle" font-family='"Liberation Serif", "DejaVu Serif", serif' font-size="59.5" fill="#000">1.48</text>
<rect x="1705.55" y="1668.05" width="152.5" height="91.5" fill="#f4f4f4" stroke="#595959" stroke-width="6.9" stroke-linejoin="round"/>
<text x="1783.2" y="1734.3" text-anchor="middle" font-family='"Liberation Serif", "DejaVu Serif", serif' font-size="59.5" fill="#000">2.72</text>
<text x="48.8" y="149" text-anchor="start" font-family='"Liberation Serif", "DejaVu Serif", serif' font-size="61.6" fill="#000" textLength="66.78" lengthAdjust="spacing">(a)</text>
<text x="495.9" y="91.7" text-anchor="start" font-family='"Liberation Serif", "DejaVu Serif", serif' font-size="67" font-weight="bold" fill="#000" textLength="1301.39" lengthAdjust="spacing">Probability plot with 95% confidence interval</text>
<text x="837.0" y="168.9" text-anchor="start" font-family='"Liberation Serif", "DejaVu Serif", serif' font-size="67" font-weight="bold" fill="#000" textLength="618.68" lengthAdjust="spacing">Normal (-0.046,1.190)</text>
<text x="1083.1" y="1969" text-anchor="start" font-family='"Liberation Serif", "DejaVu Serif", serif' font-size="58.7" font-weight="bold" fill="#000" textLength="423.25" lengthAdjust="spacing">Observed (Var1)</text>
<text x="80.2" y="1032" text-anchor="middle" font-family='"Liberation Serif", "DejaVu Serif", serif' font-size="58.7" font-weight="bold" fill="#000" transform="rotate(-90 80.2 1032)">Distribution (%)</text>
<path d="M553.06 2340.5V3915.5M800.12 2340.5V3915.5M1047.19 2340.5V3915.5M1294.25 2340.5V3915.5M1541.31 2340.5V3915.5M1788.38 2340.5V3915.5M2035.44 2340.5V3915.5" stroke="#bfbfbf" stroke-width="4.2" fill="none"/>
<path d="M303.3 2335.6H2285.2Q2287.4 2335.6 2287.4 2337.8V3918.2Q2287.4 3920.4 2285.2 3920.4H303.3Q301.1 3920.4 301.1 3918.2V2337.8Q301.1 2335.6 303.3 2335.6ZM310.9 2345.4V3910.6H2277.6V2345.4Z" fill="#000" fill-rule="evenodd"/>
<svg x="304.9" y="2334" width="1983.5" height="1588.5" viewBox="304.9 2334 1983.5 1588.5" overflow="hidden">
<polyline points="306,3814.99 2282.5,3814.99 2282.5,3673.97 306,3673.97 306,3598.8 2282.5,3598.8 2282.5,3507.77 306,3507.77 306,3442.13 2282.5,3442.13 2282.5,3386.05 306,3386.05 306,3333.63 2282.5,3333.63 2282.5,3281.21 306,3281.21 306,3225.12 2282.5,3225.12 2282.5,3159.48 306,3159.48 306,3068.46 2282.5,3068.46 2282.5,2993.28 306,2993.28 306,2852.27 2282.5,2852.27" fill="none" stroke="#999999" stroke-width="8.7" stroke-linecap="round" stroke-linejoin="round" stroke-dasharray="58.35 33.34 0.01 33.34 0.01 33.32" stroke-dashoffset="0"/>
<path d="M304 2843.47H1642.94Q1648.44 2843.47 1648.44 2848.97V3919.3Q1648.44 3922.3 1645.44 3922.3H1633.84Q1630.84 3922.3 1630.84 3919.3V2861.07H304Z" fill="#c55a11"/>
<path d="M304 3059.66H1371.65Q1377.15 3059.66 1377.15 3065.16V3919.3Q1377.15 3922.3 1374.15 3922.3H1362.55Q1359.55 3922.3 1359.55 3919.3V3077.26H304Z" fill="#c55a11"/>
<path d="M304 3590H706.1Q711.6 3590 711.6 3595.5V3919.3Q711.6 3922.3 708.6 3922.3H697Q694 3922.3 694 3919.3V3607.6H304Z" fill="#c55a11"/>
<path d="M304 3806.19H434.81Q440.31 3806.19 440.31 3811.69V3919.3Q440.31 3922.3 437.31 3922.3H425.71Q422.71 3922.3 422.71 3919.3V3823.79H304Z" fill="#c55a11"/>
<polyline points="129.04,3928.34 129.3,3928.23 130.07,3927.89 131.36,3927.31 133.16,3926.51 135.47,3925.48 138.28,3924.23 141.57,3922.74 145.35,3921.03 149.61,3919.09 154.32,3916.93 159.48,3914.54 165.08,3911.93 171.1,3909.09 177.53,3906.04 184.36,3902.76 191.56,3899.26 199.13,3895.55 207.04,3891.62 215.29,3887.47 223.86,3883.11 232.74,3878.54 241.9,3873.76 251.34,3868.77 261.04,3863.58 270.99,3858.18 281.17,3852.58 291.59,3846.78 302.21,3840.78 313.04,3834.59 324.06,3828.2 335.26,3821.62 346.64,3814.86 358.18,3807.91 369.88,3800.78 381.73,3793.46 393.73,3785.97 405.87,3778.31 418.14,3770.47 430.53,3762.47 443.05,3754.3 455.69,3745.97 468.45,3737.48 481.31,3728.84 494.29,3720.04 507.36,3711.1 520.54,3702 533.82,3692.77 547.19,3683.4 560.65,3673.89 574.21,3664.26 587.84,3654.49 601.57,3644.61 615.37,3634.6 629.26,3624.48 643.22,3614.24 657.25,3603.9 671.35,3593.45 685.52,3582.9 699.76,3572.26 714.05,3561.53 728.4,3550.7 742.81,3539.8 757.26,3528.81 771.77,3517.75 786.31,3506.62 800.9,3495.42 815.52,3484.16 830.17,3472.85 844.85,3461.47 859.55,3450.05 874.26,3438.59 889,3427.08 903.73,3415.54 918.48,3403.97 933.22,3392.37 947.96,3380.75 962.68,3369.11 977.39,3357.46 992.07,3345.79 1006.73,3334.13 1021.35,3322.46 1035.94,3310.8 1050.48,3299.15 1064.97,3287.51 1079.4,3275.88 1093.77,3264.29 1108.07,3252.71 1122.3,3241.17 1136.44,3229.67 1150.5,3218.2 1164.46,3206.78 1178.33,3195.41 1192.08,3184.09 1205.72,3172.83 1219.24,3161.64 1232.63,3150.51 1245.89,3139.44 1259,3128.46 1271.97,3117.55 1284.78,3106.73 1297.43,3096 1309.91,3085.35 1322.21,3074.81 1334.33,3064.36 1346.25,3054.02 1357.98,3043.78 1369.51,3033.66 1380.82,3023.65 1391.91,3013.76 1402.78,3004 1413.41,2994.36 1423.81,2984.86 1433.95,2975.49 1443.85,2966.25 1453.49,2957.16 1462.87,2948.22 1471.97,2939.42 1480.8,2930.77 1489.36,2922.28 1497.63,2913.95 1505.61,2905.78 1513.3,2897.78 1520.69,2889.95 1527.79,2882.28 1534.59,2874.79 1541.09,2867.48 1547.3,2860.35 1553.2,2853.4 1558.8,2846.63 1564.1,2840.05 1569.11,2833.67 1573.83,2827.48 1578.26,2821.48 1582.41,2815.68 1586.28,2810.08 1589.88,2804.68 1593.21,2799.48 1596.29,2794.49 1599.13,2789.71 1601.73,2785.14 1604.1,2780.78 1606.25,2776.64 1608.2,2772.71 1609.96,2768.99 1611.53,2765.5 1612.93,2762.22 1614.17,2759.16 1615.26,2756.33 1616.22,2753.72 1617.05,2751.33 1617.77,2749.17 1618.38,2747.23 1618.9,2745.52 1619.33,2744.03 1619.68,2742.77 1619.96,2741.74 1620.17,2740.94 1620.31,2740.37 1620.4,2740.03 1620.43,2739.91" fill="none" stroke="#999999" stroke-width="8.4" stroke-linecap="round" stroke-linejoin="round"/>
<polyline points="450.72,3928.34 450.75,3928.23 450.84,3927.89 450.99,3927.31 451.2,3926.51 451.47,3925.48 451.82,3924.23 452.25,3922.74 452.77,3921.03 453.38,3919.09 454.1,3916.93 454.93,3914.54 455.89,3911.93 456.98,3909.09 458.22,3906.04 459.62,3902.76 461.19,3899.26 462.95,3895.55 464.9,3891.62 467.05,3887.47 469.42,3883.11 472.02,3878.54 474.86,3873.76 477.94,3868.77 481.27,3863.58 484.87,3858.18 488.74,3852.58 492.89,3846.78 497.32,3840.78 502.04,3834.59 507.05,3828.2 512.35,3821.62 517.95,3814.86 523.86,3807.91 530.06,3800.78 536.56,3793.46 543.36,3785.97 550.46,3778.31 557.85,3770.47 565.54,3762.47 573.53,3754.3 581.79,3745.97 590.35,3737.48 599.18,3728.84 608.28,3720.04 617.66,3711.1 627.3,3702 637.2,3692.77 647.35,3683.4 657.74,3673.89 668.37,3664.26 679.24,3654.49 690.33,3644.61 701.65,3634.6 713.17,3624.48 724.9,3614.24 736.82,3603.9 748.94,3593.45 761.24,3582.9 773.72,3572.26 786.37,3561.53 799.18,3550.7 812.15,3539.8 825.26,3528.81 838.52,3517.75 851.91,3506.62 865.43,3495.42 879.07,3484.16 892.83,3472.85 906.69,3461.47 920.65,3450.05 934.71,3438.59 948.85,3427.08 963.08,3415.54 977.38,3403.97 991.75,3392.37 1006.18,3380.75 1020.67,3369.11 1035.21,3357.46 1049.8,3345.79 1064.42,3334.13 1079.08,3322.46 1093.76,3310.8 1108.47,3299.15 1123.19,3287.51 1137.93,3275.88 1152.67,3264.29 1167.42,3252.71 1182.16,3241.17 1196.89,3229.67 1211.61,3218.2 1226.31,3206.78 1240.98,3195.41 1255.63,3184.09 1270.25,3172.83 1284.84,3161.64 1299.39,3150.51 1313.89,3139.44 1328.34,3128.46 1342.75,3117.55 1357.1,3106.73 1371.4,3096 1385.63,3085.35 1399.8,3074.81 1413.9,3064.36 1427.93,3054.02 1441.89,3043.78 1455.78,3033.66 1469.58,3023.65 1483.31,3013.76 1496.95,3004 1510.5,2994.36 1523.96,2984.86 1537.33,2975.49 1550.61,2966.25 1563.79,2957.16 1576.86,2948.22 1589.84,2939.42 1602.7,2930.77 1615.46,2922.28 1628.1,2913.95 1640.62,2905.78 1653.01,2897.78 1665.28,2889.95 1677.42,2882.28 1689.42,2874.79 1701.27,2867.48 1712.97,2860.35 1724.51,2853.4 1735.89,2846.63 1747.09,2840.05 1758.11,2833.67 1768.94,2827.48 1779.57,2821.48 1789.98,2815.68 1800.16,2810.08 1810.11,2804.68 1819.81,2799.48 1829.25,2794.49 1838.42,2789.71 1847.29,2785.14 1855.86,2780.78 1864.11,2776.64 1872.02,2772.71 1879.59,2768.99 1886.79,2765.5 1893.62,2762.22 1900.05,2759.16 1906.07,2756.33 1911.67,2753.72 1916.83,2751.33 1921.54,2749.17 1925.8,2747.23 1929.58,2745.52 1932.87,2744.03 1935.68,2742.77 1937.99,2741.74 1939.79,2740.94 1941.08,2740.37 1941.85,2740.03 1942.11,2739.91" fill="none" stroke="#999999" stroke-width="8.4" stroke-linecap="round" stroke-linejoin="round"/>
<line x1="306" y1="3915.5" x2="2282.5" y2="2340.5" stroke="#000" stroke-width="3.3" stroke-linecap="round" stroke-dasharray="13.3 9.6" stroke-dashoffset="-1.6"/>
<g fill="#2e7521"><circle cx="564" cy="3881.47" r="18.8"/><circle cx="583.9" cy="3852.45" r="18.8"/><circle cx="609.5" cy="3831.04" r="18.8"/><circle cx="628.3" cy="3813.92" r="18.8"/><circle cx="629.25" cy="3799.56" r="18.8"/><circle cx="630.2" cy="3787.14" r="18.8"/><circle cx="632.02" cy="3776.17" r="18.8"/><circle cx="633.59" cy="3766.31" r="18.8"/><circle cx="635.2" cy="3757.35" r="18.8"/><circle cx="636.71" cy="3749.12" r="18.8"/><circle cx="639.41" cy="3741.5" r="18.8"/><circle cx="641.89" cy="3734.39" r="18.8"/><circle cx="644.1" cy="3727.73" r="18.8"/><circle cx="649.3" cy="3721.45" r="18.8"/><circle cx="651.4" cy="3715.51" r="18.8"/><circle cx="653.81" cy="3709.86" r="18.8"/><circle cx="656.65" cy="3704.49" r="18.8"/><circle cx="659.14" cy="3699.35" r="18.8"/><circle cx="661.4" cy="3694.43" r="18.8"/><circle cx="663.5" cy="3689.7" r="18.8"/><circle cx="665.53" cy="3685.16" r="18.8"/><circle cx="673.9" cy="3680.77" r="18.8"/><circle cx="676.17" cy="3676.54" r="18.8"/><circle cx="678.42" cy="3672.44" r="18.8"/><circle cx="680.61" cy="3668.48" r="18.8"/><circle cx="682.72" cy="3664.63" r="18.8"/><circle cx="684.69" cy="3660.89" r="18.8"/><circle cx="686.49" cy="3657.26" r="18.8"/><circle cx="688.1" cy="3653.72" r="18.8"/><circle cx="699.41" cy="3650.28" r="18.8"/><circle cx="701.4" cy="3646.92" r="18.8"/><circle cx="702.99" cy="3643.64" r="18.8"/><circle cx="704.39" cy="3640.44" r="18.8"/><circle cx="705.6" cy="3637.31" r="18.8"/><circle cx="706.73" cy="3634.24" r="18.8"/><circle cx="707.8" cy="3631.25" r="18.8"/><circle cx="708.84" cy="3628.31" r="18.8"/><circle cx="709.87" cy="3625.43" r="18.8"/><circle cx="710.92" cy="3622.6" r="18.8"/><circle cx="711.96" cy="3619.83" r="18.8"/><circle cx="712.98" cy="3617.11" r="18.8"/><circle cx="714.03" cy="3614.44" r="18.8"/><circle cx="715.12" cy="3611.81" r="18.8"/><circle cx="716.24" cy="3609.23" r="18.8"/><circle cx="717.37" cy="3606.69" r="18.8"/><circle cx="718.51" cy="3604.19" r="18.8"/><circle cx="719.64" cy="3601.73" r="18.8"/><circle cx="720.82" cy="3599.3" r="18.8"/><circle cx="722.12" cy="3596.91" r="18.8"/><circle cx="723.38" cy="3594.56" r="18.8"/><circle cx="734.56" cy="3592.24" r="18.8"/><circle cx="735.68" cy="3589.95" r="18.8"/><circle cx="736.74" cy="3587.69" r="18.8"/><circle cx="737.76" cy="3585.46" r="18.8"/><circle cx="738.72" cy="3583.26" r="18.8"/><circle cx="739.64" cy="3581.09" r="18.8"/><circle cx="740.52" cy="3578.95" r="18.8"/><circle cx="741.36" cy="3576.83" r="18.8"/><circle cx="742.17" cy="3574.74" r="18.8"/><circle cx="742.97" cy="3572.67" r="18.8"/><circle cx="743.75" cy="3570.62" r="18.8"/><circle cx="744.53" cy="3568.6" r="18.8"/><circle cx="745.32" cy="3566.6" r="18.8"/><circle cx="746.12" cy="3564.62" r="18.8"/><circle cx="746.94" cy="3562.66" r="18.8"/><circle cx="747.79" cy="3560.72" r="18.8"/><circle cx="748.83" cy="3558.8" r="18.8"/><circle cx="750.01" cy="3556.91" r="18.8"/><circle cx="751.21" cy="3555.03" r="18.8"/><circle cx="752.45" cy="3553.16" r="18.8"/><circle cx="753.71" cy="3551.32" r="18.8"/><circle cx="755" cy="3549.49" r="18.8"/><circle cx="766.31" cy="3547.68" r="18.8"/><circle cx="767.6" cy="3545.88" r="18.8"/><circle cx="768.9" cy="3544.1" r="18.8"/><circle cx="770.21" cy="3542.34" r="18.8"/><circle cx="771.53" cy="3540.59" r="18.8"/><circle cx="772.85" cy="3538.86" r="18.8"/><circle cx="774.16" cy="3537.14" r="18.8"/><circle cx="775.45" cy="3535.43" r="18.8"/><circle cx="776.74" cy="3533.74" r="18.8"/><circle cx="777.99" cy="3532.06" r="18.8"/><circle cx="779.23" cy="3530.39" r="18.8"/><circle cx="780.43" cy="3528.74" r="18.8"/><circle cx="781.61" cy="3527.1" r="18.8"/><circle cx="782.77" cy="3525.47" r="18.8"/><circle cx="784.05" cy="3523.85" r="18.8"/><circle cx="785.3" cy="3522.25" r="18.8"/><circle cx="786.5" cy="3520.65" r="18.8"/><circle cx="797.65" cy="3519.07" r="18.8"/><circle cx="798.76" cy="3517.5" r="18.8"/><circle cx="799.83" cy="3515.93" r="18.8"/><circle cx="800.87" cy="3514.38" r="18.8"/><circle cx="801.88" cy="3512.84" r="18.8"/><circle cx="802.86" cy="3511.31" r="18.8"/><circle cx="803.81" cy="3509.79" r="18.8"/><circle cx="804.74" cy="3508.27" r="18.8"/><circle cx="805.65" cy="3506.77" r="18.8"/><circle cx="806.55" cy="3505.27" r="18.8"/><circle cx="807.43" cy="3503.79" r="18.8"/><circle cx="808.3" cy="3502.31" r="18.8"/><circle cx="809.17" cy="3500.84" r="18.8"/><circle cx="810.03" cy="3499.38" r="18.8"/><circle cx="810.9" cy="3497.93" r="18.8"/><circle cx="811.76" cy="3496.49" r="18.8"/><circle cx="812.63" cy="3495.05" r="18.8"/><circle cx="813.51" cy="3493.62" r="18.8"/><circle cx="814.4" cy="3492.2" r="18.8"/><circle cx="815.3" cy="3490.79" r="18.8"/><circle cx="826.22" cy="3489.38" r="18.8"/><circle cx="827.18" cy="3487.98" r="18.8"/><circle cx="828.12" cy="3486.59" r="18.8"/><circle cx="829.03" cy="3485.2" r="18.8"/><circle cx="829.95" cy="3483.83" r="18.8"/><circle cx="830.89" cy="3482.45" r="18.8"/><circle cx="831.83" cy="3481.09" r="18.8"/><circle cx="832.79" cy="3479.73" r="18.8"/><circle cx="833.75" cy="3478.38" r="18.8"/><circle cx="834.72" cy="3477.03" r="18.8"/><circle cx="835.69" cy="3475.69" r="18.8"/><circle cx="836.67" cy="3474.36" r="18.8"/><circle cx="837.65" cy="3473.03" r="18.8"/><circle cx="838.63" cy="3471.7" r="18.8"/><circle cx="839.61" cy="3470.39" r="18.8"/><circle cx="840.58" cy="3469.07" r="18.8"/><circle cx="841.55" cy="3467.77" r="18.8"/><circle cx="842.51" cy="3466.47" r="18.8"/><circle cx="843.46" cy="3465.17" r="18.8"/><circle cx="844.4" cy="3463.88" r="18.8"/><circle cx="845.33" cy="3462.59" r="18.8"/><circle cx="846.24" cy="3461.31" r="18.8"/><circle cx="847.15" cy="3460.04" r="18.8"/><circle cx="857.97" cy="3458.76" r="18.8"/><circle cx="858.59" cy="3457.5" r="18.8"/><circle cx="859.2" cy="3456.24" r="18.8"/><circle cx="859.8" cy="3454.98" r="18.8"/><circle cx="860.4" cy="3453.72" r="18.8"/><circle cx="860.98" cy="3452.48" r="18.8"/><circle cx="861.55" cy="3451.23" r="18.8"/><circle cx="862.12" cy="3449.99" r="18.8"/><circle cx="862.68" cy="3448.76" r="18.8"/><circle cx="863.23" cy="3447.52" r="18.8"/><circle cx="863.78" cy="3446.3" r="18.8"/><circle cx="864.33" cy="3445.07" r="18.8"/><circle cx="864.9" cy="3443.85" r="18.8"/><circle cx="865.47" cy="3442.63" r="18.8"/><circle cx="866.04" cy="3441.42" r="18.8"/><circle cx="866.6" cy="3440.21" r="18.8"/><circle cx="867.17" cy="3439.01" r="18.8"/><circle cx="877.86" cy="3437.81" r="18.8"/><circle cx="878.59" cy="3436.61" r="18.8"/><circle cx="879.32" cy="3435.41" r="18.8"/><circle cx="880.06" cy="3434.22" r="18.8"/><circle cx="880.81" cy="3433.03" r="18.8"/><circle cx="881.56" cy="3431.85" r="18.8"/><circle cx="882.32" cy="3430.67" r="18.8"/><circle cx="883.09" cy="3429.49" r="18.8"/><circle cx="883.87" cy="3428.31" r="18.8"/><circle cx="884.66" cy="3427.14" r="18.8"/><circle cx="885.46" cy="3425.97" r="18.8"/><circle cx="886.28" cy="3424.8" r="18.8"/><circle cx="887.1" cy="3423.64" r="18.8"/><circle cx="887.93" cy="3422.48" r="18.8"/><circle cx="888.77" cy="3421.32" r="18.8"/><circle cx="889.62" cy="3420.17" r="18.8"/><circle cx="890.47" cy="3419.01" r="18.8"/><circle cx="891.34" cy="3417.86" r="18.8"/><circle cx="892.21" cy="3416.71" r="18.8"/><circle cx="893.08" cy="3415.57" r="18.8"/><circle cx="903.94" cy="3414.43" r="18.8"/><circle cx="904.65" cy="3413.29" r="18.8"/><circle cx="905.35" cy="3412.15" r="18.8"/><circle cx="906.06" cy="3411.01" r="18.8"/><circle cx="906.76" cy="3409.88" r="18.8"/><circle cx="907.47" cy="3408.75" r="18.8"/><circle cx="908.17" cy="3407.62" r="18.8"/><circle cx="908.87" cy="3406.5" r="18.8"/><circle cx="909.59" cy="3405.37" r="18.8"/><circle cx="910.33" cy="3404.25" r="18.8"/><circle cx="911.06" cy="3403.13" r="18.8"/><circle cx="911.79" cy="3402.01" r="18.8"/><circle cx="912.5" cy="3400.9" r="18.8"/><circle cx="913.21" cy="3399.78" r="18.8"/><circle cx="923.98" cy="3398.67" r="18.8"/><circle cx="925" cy="3397.56" r="18.8"/><circle cx="925.99" cy="3396.45" r="18.8"/><circle cx="926.97" cy="3395.34" r="18.8"/><circle cx="927.94" cy="3394.24" r="18.8"/><circle cx="928.88" cy="3393.14" r="18.8"/><circle cx="929.81" cy="3392.03" r="18.8"/><circle cx="930.72" cy="3390.93" r="18.8"/><circle cx="931.61" cy="3389.84" r="18.8"/><circle cx="932.48" cy="3388.74" r="18.8"/><circle cx="933.34" cy="3387.64" r="18.8"/><circle cx="934.18" cy="3386.55" r="18.8"/><circle cx="935.01" cy="3385.46" r="18.8"/><circle cx="935.82" cy="3384.37" r="18.8"/><circle cx="936.61" cy="3383.28" r="18.8"/><circle cx="937.4" cy="3382.19" r="18.8"/><circle cx="938.17" cy="3381.1" r="18.8"/><circle cx="938.94" cy="3380.02" r="18.8"/><circle cx="939.69" cy="3378.93" r="18.8"/><circle cx="940.44" cy="3377.85" r="18.8"/><circle cx="941.19" cy="3376.77" r="18.8"/><circle cx="941.92" cy="3375.69" r="18.8"/><circle cx="942.66" cy="3374.61" r="18.8"/><circle cx="943.4" cy="3373.53" r="18.8"/><circle cx="944.13" cy="3372.45" r="18.8"/><circle cx="944.87" cy="3371.38" r="18.8"/><circle cx="945.61" cy="3370.3" r="18.8"/><circle cx="946.51" cy="3369.23" r="18.8"/><circle cx="947.55" cy="3368.15" r="18.8"/><circle cx="948.59" cy="3367.08" r="18.8"/><circle cx="949.64" cy="3366.01" r="18.8"/><circle cx="950.7" cy="3364.94" r="18.8"/><circle cx="961.65" cy="3363.87" r="18.8"/><circle cx="962.28" cy="3362.8" r="18.8"/><circle cx="962.91" cy="3361.73" r="18.8"/><circle cx="963.55" cy="3360.66" r="18.8"/><circle cx="964.19" cy="3359.6" r="18.8"/><circle cx="964.85" cy="3358.53" r="18.8"/><circle cx="965.51" cy="3357.46" r="18.8"/><circle cx="966.18" cy="3356.4" r="18.8"/><circle cx="966.85" cy="3355.34" r="18.8"/><circle cx="967.53" cy="3354.27" r="18.8"/><circle cx="968.22" cy="3353.21" r="18.8"/><circle cx="978.93" cy="3352.15" r="18.8"/><circle cx="980.12" cy="3351.08" r="18.8"/><circle cx="981.32" cy="3350.02" r="18.8"/><circle cx="982.52" cy="3348.96" r="18.8"/><circle cx="983.74" cy="3347.9" r="18.8"/><circle cx="984.96" cy="3346.84" r="18.8"/><circle cx="986.19" cy="3345.78" r="18.8"/><circle cx="987.42" cy="3344.72" r="18.8"/><circle cx="988.66" cy="3343.66" r="18.8"/><circle cx="989.9" cy="3342.6" r="18.8"/><circle cx="991.14" cy="3341.54" r="18.8"/><circle cx="992.39" cy="3340.48" r="18.8"/><circle cx="993.63" cy="3339.42" r="18.8"/><circle cx="994.88" cy="3338.36" r="18.8"/><circle cx="996.12" cy="3337.3" r="18.8"/><circle cx="997.36" cy="3336.25" r="18.8"/><circle cx="998.63" cy="3335.19" r="18.8"/><circle cx="999.91" cy="3334.13" r="18.8"/><circle cx="1001.17" cy="3333.07" r="18.8"/><circle cx="1002.43" cy="3332.01" r="18.8"/><circle cx="1003.68" cy="3330.95" r="18.8"/><circle cx="1014.78" cy="3329.89" r="18.8"/><circle cx="1015.54" cy="3328.84" r="18.8"/><circle cx="1016.28" cy="3327.78" r="18.8"/><circle cx="1017.03" cy="3326.72" r="18.8"/><circle cx="1017.77" cy="3325.66" r="18.8"/><circle cx="1018.5" cy="3324.6" r="18.8"/><circle cx="1019.23" cy="3323.54" r="18.8"/><circle cx="1019.95" cy="3322.48" r="18.8"/><circle cx="1020.67" cy="3321.42" r="18.8"/><circle cx="1021.39" cy="3320.36" r="18.8"/><circle cx="1022.1" cy="3319.3" r="18.8"/><circle cx="1033.07" cy="3318.24" r="18.8"/><circle cx="1034.19" cy="3317.17" r="18.8"/><circle cx="1035.3" cy="3316.11" r="18.8"/><circle cx="1036.4" cy="3315.05" r="18.8"/><circle cx="1037.51" cy="3313.99" r="18.8"/><circle cx="1038.61" cy="3312.92" r="18.8"/><circle cx="1039.71" cy="3311.86" r="18.8"/><circle cx="1040.82" cy="3310.79" r="18.8"/><circle cx="1041.92" cy="3309.73" r="18.8"/><circle cx="1043.03" cy="3308.66" r="18.8"/><circle cx="1044.14" cy="3307.59" r="18.8"/><circle cx="1045.25" cy="3306.53" r="18.8"/><circle cx="1046.37" cy="3305.46" r="18.8"/><circle cx="1047.5" cy="3304.39" r="18.8"/><circle cx="1048.71" cy="3303.32" r="18.8"/><circle cx="1049.95" cy="3302.25" r="18.8"/><circle cx="1051.18" cy="3301.18" r="18.8"/><circle cx="1052.43" cy="3300.1" r="18.8"/><circle cx="1053.69" cy="3299.03" r="18.8"/><circle cx="1064.94" cy="3297.96" r="18.8"/><circle cx="1066.02" cy="3296.88" r="18.8"/><circle cx="1067.11" cy="3295.8" r="18.8"/><circle cx="1068.21" cy="3294.73" r="18.8"/><circle cx="1069.31" cy="3293.65" r="18.8"/><circle cx="1070.43" cy="3292.57" r="18.8"/><circle cx="1071.55" cy="3291.49" r="18.8"/><circle cx="1072.69" cy="3290.41" r="18.8"/><circle cx="1073.83" cy="3289.32" r="18.8"/><circle cx="1074.97" cy="3288.24" r="18.8"/><circle cx="1076.12" cy="3287.15" r="18.8"/><circle cx="1077.28" cy="3286.07" r="18.8"/><circle cx="1078.45" cy="3284.98" r="18.8"/><circle cx="1089.65" cy="3283.89" r="18.8"/><circle cx="1090.87" cy="3282.8" r="18.8"/><circle cx="1092.09" cy="3281.71" r="18.8"/><circle cx="1093.32" cy="3280.61" r="18.8"/><circle cx="1094.55" cy="3279.52" r="18.8"/><circle cx="1095.78" cy="3278.42" r="18.8"/><circle cx="1097" cy="3277.32" r="18.8"/><circle cx="1098.22" cy="3276.22" r="18.8"/><circle cx="1099.44" cy="3275.12" r="18.8"/><circle cx="1100.5" cy="3274.02" r="18.8"/><circle cx="1101.43" cy="3272.91" r="18.8"/><circle cx="1102.34" cy="3271.81" r="18.8"/><circle cx="1103.25" cy="3270.7" r="18.8"/><circle cx="1104.15" cy="3269.59" r="18.8"/><circle cx="1115.11" cy="3268.48" r="18.8"/><circle cx="1116.15" cy="3267.36" r="18.8"/><circle cx="1117.18" cy="3266.24" r="18.8"/><circle cx="1118.2" cy="3265.13" r="18.8"/><circle cx="1119.2" cy="3264.01" r="18.8"/><circle cx="1120.19" cy="3262.88" r="18.8"/><circle cx="1121.16" cy="3261.76" r="18.8"/><circle cx="1122.12" cy="3260.63" r="18.8"/><circle cx="1123.07" cy="3259.51" r="18.8"/><circle cx="1124" cy="3258.37" r="18.8"/><circle cx="1124.92" cy="3257.24" r="18.8"/><circle cx="1125.83" cy="3256.11" r="18.8"/><circle cx="1126.73" cy="3254.97" r="18.8"/><circle cx="1127.63" cy="3253.83" r="18.8"/><circle cx="1128.51" cy="3252.69" r="18.8"/><circle cx="1129.39" cy="3251.54" r="18.8"/><circle cx="1130.26" cy="3250.39" r="18.8"/><circle cx="1131.13" cy="3249.24" r="18.8"/><circle cx="1132" cy="3248.09" r="18.8"/><circle cx="1132.87" cy="3246.94" r="18.8"/><circle cx="1133.74" cy="3245.78" r="18.8"/><circle cx="1134.62" cy="3244.62" r="18.8"/><circle cx="1135.5" cy="3243.45" r="18.8"/><circle cx="1136.37" cy="3242.29" r="18.8"/><circle cx="1137.23" cy="3241.12" r="18.8"/><circle cx="1138.11" cy="3239.94" r="18.8"/><circle cx="1138.99" cy="3238.77" r="18.8"/><circle cx="1139.9" cy="3237.59" r="18.8"/><circle cx="1140.81" cy="3236.41" r="18.8"/><circle cx="1151.34" cy="3235.22" r="18.8"/><circle cx="1151.85" cy="3234.04" r="18.8"/><circle cx="1152.38" cy="3232.84" r="18.8"/><circle cx="1152.92" cy="3231.65" r="18.8"/><circle cx="1153.47" cy="3230.45" r="18.8"/><circle cx="1154.03" cy="3229.25" r="18.8"/><circle cx="1154.6" cy="3228.04" r="18.8"/><circle cx="1155.19" cy="3226.83" r="18.8"/><circle cx="1155.79" cy="3225.62" r="18.8"/><circle cx="1156.4" cy="3224.41" r="18.8"/><circle cx="1157.02" cy="3223.18" r="18.8"/><circle cx="1167.68" cy="3221.96" r="18.8"/><circle cx="1168.38" cy="3220.73" r="18.8"/><circle cx="1169.09" cy="3219.5" r="18.8"/><circle cx="1169.81" cy="3218.26" r="18.8"/><circle cx="1170.53" cy="3217.02" r="18.8"/><circle cx="1171.27" cy="3215.78" r="18.8"/><circle cx="1172.05" cy="3214.53" r="18.8"/><circle cx="1172.89" cy="3213.28" r="18.8"/><circle cx="1173.74" cy="3212.02" r="18.8"/><circle cx="1174.59" cy="3210.76" r="18.8"/><circle cx="1185.95" cy="3209.49" r="18.8"/><circle cx="1187.42" cy="3208.22" r="18.8"/><circle cx="1188.9" cy="3206.94" r="18.8"/><circle cx="1190.37" cy="3205.66" r="18.8"/><circle cx="1191.84" cy="3204.38" r="18.8"/><circle cx="1193.3" cy="3203.09" r="18.8"/><circle cx="1194.76" cy="3201.79" r="18.8"/><circle cx="1196.21" cy="3200.49" r="18.8"/><circle cx="1197.65" cy="3199.18" r="18.8"/><circle cx="1199.08" cy="3197.87" r="18.8"/><circle cx="1200.51" cy="3196.55" r="18.8"/><circle cx="1202.02" cy="3195.23" r="18.8"/><circle cx="1203.52" cy="3193.9" r="18.8"/><circle cx="1205.01" cy="3192.57" r="18.8"/><circle cx="1206.49" cy="3191.23" r="18.8"/><circle cx="1207.97" cy="3189.88" r="18.8"/><circle cx="1209.43" cy="3188.53" r="18.8"/><circle cx="1210.9" cy="3187.17" r="18.8"/><circle cx="1212.36" cy="3185.8" r="18.8"/><circle cx="1223.68" cy="3184.43" r="18.8"/><circle cx="1224.95" cy="3183.05" r="18.8"/><circle cx="1226.23" cy="3181.67" r="18.8"/><circle cx="1227.52" cy="3180.27" r="18.8"/><circle cx="1228.81" cy="3178.87" r="18.8"/><circle cx="1230.11" cy="3177.47" r="18.8"/><circle cx="1231.42" cy="3176.06" r="18.8"/><circle cx="1232.75" cy="3174.63" r="18.8"/><circle cx="1234.08" cy="3173.21" r="18.8"/><circle cx="1235.44" cy="3171.77" r="18.8"/><circle cx="1236.82" cy="3170.33" r="18.8"/><circle cx="1238.21" cy="3168.87" r="18.8"/><circle cx="1239.63" cy="3167.41" r="18.8"/><circle cx="1251.02" cy="3165.94" r="18.8"/><circle cx="1252.04" cy="3164.47" r="18.8"/><circle cx="1253.02" cy="3162.98" r="18.8"/><circle cx="1253.87" cy="3161.49" r="18.8"/><circle cx="1254.73" cy="3159.98" r="18.8"/><circle cx="1255.6" cy="3158.47" r="18.8"/><circle cx="1256.49" cy="3156.95" r="18.8"/><circle cx="1257.39" cy="3155.42" r="18.8"/><circle cx="1258.29" cy="3153.87" r="18.8"/><circle cx="1269.27" cy="3152.32" r="18.8"/><circle cx="1270.8" cy="3150.76" r="18.8"/><circle cx="1272.33" cy="3149.19" r="18.8"/><circle cx="1273.87" cy="3147.6" r="18.8"/><circle cx="1275.41" cy="3146.01" r="18.8"/><circle cx="1276.94" cy="3144.4" r="18.8"/><circle cx="1278.46" cy="3142.79" r="18.8"/><circle cx="1279.97" cy="3141.16" r="18.8"/><circle cx="1281.47" cy="3139.51" r="18.8"/><circle cx="1282.95" cy="3137.86" r="18.8"/><circle cx="1284.41" cy="3136.2" r="18.8"/><circle cx="1285.86" cy="3134.52" r="18.8"/><circle cx="1287.28" cy="3132.82" r="18.8"/><circle cx="1288.69" cy="3131.12" r="18.8"/><circle cx="1290.07" cy="3129.4" r="18.8"/><circle cx="1291.44" cy="3127.66" r="18.8"/><circle cx="1292.8" cy="3125.92" r="18.8"/><circle cx="1294.16" cy="3124.15" r="18.8"/><circle cx="1295.5" cy="3122.37" r="18.8"/><circle cx="1296.49" cy="3120.58" r="18.8"/><circle cx="1297.38" cy="3118.77" r="18.8"/><circle cx="1298.28" cy="3116.94" r="18.8"/><circle cx="1309.2" cy="3115.09" r="18.8"/><circle cx="1310.14" cy="3113.23" r="18.8"/><circle cx="1311.12" cy="3111.35" r="18.8"/><circle cx="1312.14" cy="3109.45" r="18.8"/><circle cx="1313.21" cy="3107.53" r="18.8"/><circle cx="1314.34" cy="3105.6" r="18.8"/><circle cx="1315.52" cy="3103.64" r="18.8"/><circle cx="1316.77" cy="3101.66" r="18.8"/><circle cx="1318.09" cy="3099.66" r="18.8"/><circle cx="1319.48" cy="3097.63" r="18.8"/><circle cx="1320.94" cy="3095.59" r="18.8"/><circle cx="1322.46" cy="3093.52" r="18.8"/><circle cx="1324.73" cy="3091.43" r="18.8"/><circle cx="1327.28" cy="3089.31" r="18.8"/><circle cx="1329.9" cy="3087.16" r="18.8"/><circle cx="1332.57" cy="3084.99" r="18.8"/><circle cx="1335.27" cy="3082.79" r="18.8"/><circle cx="1347.83" cy="3080.56" r="18.8"/><circle cx="1349.55" cy="3078.31" r="18.8"/><circle cx="1351.28" cy="3076.02" r="18.8"/><circle cx="1353.01" cy="3073.7" r="18.8"/><circle cx="1354.73" cy="3071.34" r="18.8"/><circle cx="1366.34" cy="3068.96" r="18.8"/><circle cx="1368.22" cy="3066.53" r="18.8"/><circle cx="1370.07" cy="3064.07" r="18.8"/><circle cx="1371.89" cy="3061.57" r="18.8"/><circle cx="1373.69" cy="3059.03" r="18.8"/><circle cx="1375.48" cy="3056.44" r="18.8"/><circle cx="1377.26" cy="3053.82" r="18.8"/><circle cx="1379.14" cy="3051.14" r="18.8"/><circle cx="1381.05" cy="3048.42" r="18.8"/><circle cx="1382.84" cy="3045.65" r="18.8"/><circle cx="1392.9" cy="3042.83" r="18.8"/><circle cx="1394.32" cy="3039.95" r="18.8"/><circle cx="1395.92" cy="3037.01" r="18.8"/><circle cx="1397.73" cy="3034.01" r="18.8"/><circle cx="1399.75" cy="3030.95" r="18.8"/><circle cx="1401.98" cy="3027.82" r="18.8"/><circle cx="1410.47" cy="3024.61" r="18.8"/><circle cx="1413.18" cy="3021.34" r="18.8"/><circle cx="1416.14" cy="3017.98" r="18.8"/><circle cx="1419.27" cy="3014.53" r="18.8"/><circle cx="1422.58" cy="3011" r="18.8"/><circle cx="1426.06" cy="3007.36" r="18.8"/><circle cx="1437.42" cy="3003.63" r="18.8"/><circle cx="1447.71" cy="2999.78" r="18.8"/><circle cx="1458.62" cy="2995.81" r="18.8"/><circle cx="1466.77" cy="2991.72" r="18.8"/><circle cx="1471.37" cy="2987.48" r="18.8"/><circle cx="1476.4" cy="2983.1" r="18.8"/><circle cx="1483.16" cy="2978.55" r="18.8"/><circle cx="1488.19" cy="2973.83" r="18.8"/><circle cx="1493.58" cy="2968.91" r="18.8"/><circle cx="1499.31" cy="2963.77" r="18.8"/><circle cx="1506.13" cy="2958.39" r="18.8"/><circle cx="1566.1" cy="2952.75" r="18.8"/><circle cx="1586.9" cy="2946.81" r="18.8"/><circle cx="1603.5" cy="2940.53" r="18.8"/><circle cx="1622.2" cy="2933.87" r="18.8"/><circle cx="1632" cy="2926.76" r="18.8"/><circle cx="1641" cy="2919.14" r="18.8"/><circle cx="1691.7" cy="2910.9" r="18.8"/><circle cx="1709.6" cy="2901.94" r="18.8"/><circle cx="1724.1" cy="2892.09" r="18.8"/><circle cx="1796" cy="2881.12" r="18.8"/><circle cx="1815.6" cy="2868.7" r="18.8"/><circle cx="1886.3" cy="2854.34" r="18.8"/><circle cx="1907.9" cy="2837.21" r="18.8"/><circle cx="2007.7" cy="2815.8" r="18.8"/><circle cx="2043.5" cy="2786.79" r="18.8"/><circle cx="2122.9" cy="2739.91" r="18.8"/></g>
</svg>
<g font-family='"Liberation Serif", "DejaVu Serif", serif' font-size="59" fill="#000">
<text x="235.2" y="3694.57" text-anchor="end">5</text>
<text x="235.2" y="3619.4" text-anchor="end">10</text>
<text x="235.2" y="3528.37" text-anchor="end">20</text>
<text x="235.2" y="3462.73" text-anchor="end">30</text>
<text x="235.2" y="3406.65" text-anchor="end">40</text>
<text x="235.2" y="3354.23" text-anchor="end">50</text>
<text x="235.2" y="3301.81" text-anchor="end">60</text>
<text x="235.2" y="3245.72" text-anchor="end">70</text>
<text x="235.2" y="3180.08" text-anchor="end">80</text>
<text x="235.2" y="3089.06" text-anchor="end">90</text>
<text x="235.2" y="3013.88" text-anchor="end">95</text>
<text x="235.2" y="2872.87" text-anchor="end">99</text>
<text x="306" y="4003.6" text-anchor="middle">−3</text>
<text x="553.06" y="4003.6" text-anchor="middle">−2</text>
<text x="800.12" y="4003.6" text-anchor="middle">−1</text>
<text x="1047.19" y="4003.6" text-anchor="middle">0</text>
<text x="1294.25" y="4003.6" text-anchor="middle">1</text>
<text x="1541.31" y="4003.6" text-anchor="middle">2</text>
<text x="1788.38" y="4003.6" text-anchor="middle">3</text>
<text x="2035.44" y="4003.6" text-anchor="middle">4</text>
<text x="2282.5" y="4003.6" text-anchor="middle">5</text>
</g>
<rect x="352.55" y="2797.55" width="156.95" height="92.9" fill="#f4f4f4" stroke="#595959" stroke-width="6.9" stroke-linejoin="round"/>
<text x="432.43" y="2864.5" text-anchor="middle" font-family='"Liberation Serif", "DejaVu Serif", serif' font-size="59.5" fill="#000">99%</text>
<rect x="377.55" y="3022.55" width="156.9" height="91.9" fill="#f4f4f4" stroke="#595959" stroke-width="6.9" stroke-linejoin="round"/>
<text x="457.4" y="3089" text-anchor="middle" font-family='"Liberation Serif", "DejaVu Serif", serif' font-size="59.5" fill="#000">90%</text>
<rect x="352.75" y="3544.45" width="156.5" height="92.9" fill="#f4f4f4" stroke="#595959" stroke-width="6.9" stroke-linejoin="round"/>
<text x="432.4" y="3611.4" text-anchor="middle" font-family='"Liberation Serif", "DejaVu Serif", serif' font-size="59.5" fill="#000">10%</text>
<rect x="176.05" y="3770.05" width="127.2" height="91.1" fill="#f4f4f4" stroke="#595959" stroke-width="6.9" stroke-linejoin="round"/>
<text x="241.05" y="3836.1" text-anchor="middle" font-family='"Liberation Serif", "DejaVu Serif", serif' font-size="59.5" fill="#000">1%</text>
<rect x="339.25" y="3869.85" width="183.9" height="91.3" fill="#f4f4f4" stroke="#595959" stroke-width="6.9" stroke-linejoin="round"/>
<text x="432.6" y="3936" text-anchor="middle" font-family='"Liberation Serif", "DejaVu Serif", serif' font-size="59.5" fill="#000">−2.49</text>
<rect x="624.65" y="3869.55" width="155.5" height="91.6" fill="#f4f4f4" stroke="#595959" stroke-width="6.9" stroke-linejoin="round"/>
<text x="703.8" y="3935.85" text-anchor="middle" font-family='"Liberation Serif", "DejaVu Serif", serif' font-size="59.5" fill="#000">−1.4</text>
<rect x="1294.75" y="3802.85" width="122.4" height="91.9" fill="#f4f4f4" stroke="#595959" stroke-width="6.9" stroke-linejoin="round"/>
<text x="1357.35" y="3869.3" text-anchor="middle" font-family='"Liberation Serif", "DejaVu Serif", serif' font-size="59.5" fill="#000">1.3</text>
<rect x="1565.55" y="3718.65" width="123.3" height="92.9" fill="#f4f4f4" stroke="#595959" stroke-width="6.9" stroke-linejoin="round"/>
<text x="1628.6" y="3785.6" text-anchor="middle" font-family='"Liberation Serif", "DejaVu Serif", serif' font-size="59.5" fill="#000">2.4</text>
<text x="62.8" y="2264.4" text-anchor="start" font-family='"Liberation Serif", "DejaVu Serif", serif' font-size="61.6" fill="#000" textLength="71.13" lengthAdjust="spacing">(b)</text>
<text x="576.5" y="2210.5" text-anchor="start" font-family='"Liberation Serif", "DejaVu Serif", serif' font-size="58.7" font-weight="bold" fill="#000" textLength="1140.32" lengthAdjust="spacing">Probability plot with 95% confidence interval</text>
<text x="877.0" y="2277.3" text-anchor="start" font-family='"Liberation Serif", "DejaVu Serif", serif' font-size="58.7" font-weight="bold" fill="#000" textLength="540.69" lengthAdjust="spacing">Normal (-0.047,1.051)</text>
<text x="1083.1" y="4094.6" text-anchor="start" font-family='"Liberation Serif", "DejaVu Serif", serif' font-size="58.7" font-weight="bold" fill="#000" textLength="423.25" lengthAdjust="spacing">Observed (Var1)</text>
<text x="80.2" y="3157.5" text-anchor="middle" font-family='"Liberation Serif", "DejaVu Serif", serif' font-size="58.7" font-weight="bold" fill="#000" transform="rotate(-90 80.2 3157.5)">Distribution (%)</text>
</svg>
</body>
</html>
